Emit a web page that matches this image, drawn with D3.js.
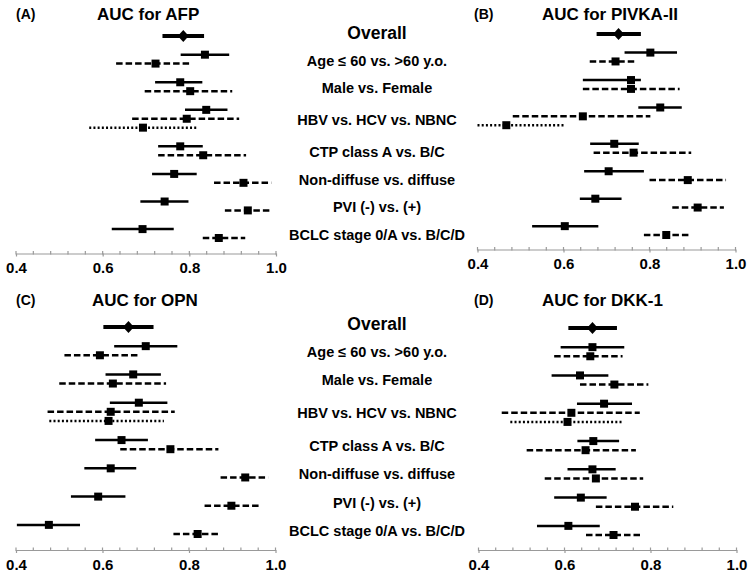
<!DOCTYPE html>
<html>
<head>
<meta charset="utf-8">
<script src="https://cdn.jsdelivr.net/npm/d3@7"></script>
<style>
  body { margin: 0; background: #fff; }
  text { font-family: Arial, "Liberation Sans", sans-serif; font-weight: bold; fill: #000; }
</style>
</head>
<body>
<div id="chart"></div>
<script>
// group labels in the middle column
var groups = ["Overall", "Age \u2264 60 vs. >60 y.o.", "Male vs. Female", "HBV vs. HCV vs. NBNC",
  "CTP class A vs. B/C", "Non-diffuse vs. diffuse", "PVI (-) vs. (+)", "BCLC stage 0/A vs. B/C/D"];

// one row per subgroup
var subgroups = ["Overall", "Age <= 60", "Age > 60", "Male", "Female", "HBV", "HCV", "NBNC",
  "CTP A", "CTP B/C", "Non-diffuse", "Diffuse", "PVI (-)", "PVI (+)", "BCLC 0/A", "BCLC B/C/D"];
var subgroupGroup = [0, 1, 1, 2, 2, 3, 3, 3, 4, 4, 5, 5, 6, 6, 7, 7];
var subgroupStyle = ["overall", "solid", "dashed", "solid", "dashed", "solid", "dashed", "dotted",
  "solid", "dashed", "solid", "dashed", "solid", "dashed", "solid", "dashed"];

var tickLabels = [0.4, 0.6, 0.8, 1.0];

// [AUC, lower CI, upper CI] per subgroup
var afp = [
  [0.786, 0.738, 0.834], [0.836, 0.780, 0.892], [0.722, 0.631, 0.800],
  [0.779, 0.721, 0.830], [0.802, 0.697, 0.899],
  [0.839, 0.790, 0.888], [0.794, 0.668, 0.915], [0.693, 0.569, 0.818],
  [0.779, 0.728, 0.831], [0.832, 0.728, 0.931],
  [0.765, 0.714, 0.817], [0.925, 0.857, 0.989],
  [0.743, 0.687, 0.798], [0.935, 0.882, 0.989],
  [0.692, 0.621, 0.764], [0.868, 0.831, 0.929]
];
var pivka = [
  [0.728, 0.677, 0.780], [0.802, 0.742, 0.864], [0.721, 0.661, 0.769],
  [0.757, 0.645, 0.780], [0.757, 0.645, 0.870],
  [0.825, 0.774, 0.875], [0.645, 0.482, 0.802], [0.467, 0.400, 0.603],
  [0.718, 0.662, 0.775], [0.763, 0.670, 0.897],
  [0.705, 0.648, 0.787], [0.889, 0.800, 0.978],
  [0.674, 0.638, 0.735], [0.912, 0.853, 0.973],
  [0.603, 0.527, 0.681], [0.839, 0.787, 0.891]
];
var opn = [
  [0.660, 0.602, 0.718], [0.700, 0.627, 0.773], [0.594, 0.512, 0.681],
  [0.671, 0.607, 0.735], [0.624, 0.500, 0.747],
  [0.684, 0.617, 0.750], [0.619, 0.473, 0.767], [0.614, 0.477, 0.742],
  [0.644, 0.583, 0.705], [0.757, 0.641, 0.868],
  [0.619, 0.558, 0.678], [0.930, 0.873, 0.983],
  [0.590, 0.527, 0.653], [0.898, 0.836, 0.961],
  [0.476, 0.402, 0.548], [0.820, 0.764, 0.873]
];
var dkk1 = [
  [0.665, 0.609, 0.722], [0.665, 0.591, 0.739], [0.660, 0.576, 0.735],
  [0.636, 0.570, 0.702], [0.716, 0.636, 0.795],
  [0.692, 0.629, 0.757], [0.616, 0.454, 0.775], [0.607, 0.474, 0.737],
  [0.667, 0.630, 0.727], [0.649, 0.512, 0.766],
  [0.665, 0.607, 0.719], [0.673, 0.554, 0.783],
  [0.638, 0.576, 0.698], [0.764, 0.673, 0.853],
  [0.609, 0.536, 0.682], [0.714, 0.650, 0.782]
];

var W = 749, H = 576;
var svg = d3.select("#chart").append("svg")
  .attr("width", W)
  .attr("height", H);

// row offsets: +1 inside a group, +2.1 when a new group starts
var rowOffset = [];
subgroups.forEach(function(s, i) {
  if (i == 0) rowOffset.push(0);
  else rowOffset.push(rowOffset[i - 1] + (subgroupGroup[i] == subgroupGroup[i - 1] ? 1 : 2.1));
});
var maxOffset = rowOffset[rowOffset.length - 1];

var panels = [
  {tag: "(A)", title: "AUC for AFP", data: afp, x0: 16, x1: 276, top: 36, bottom: 238, axisY: 253.5, tagX: 16, titleX: 97, titleY: 14},
  {tag: "(B)", title: "AUC for PIVKA-II", data: pivka, x0: 477.5, x1: 735.5, top: 34, bottom: 235, axisY: 249.5, tagX: 474, titleX: 542, titleY: 14},
  {tag: "(C)", title: "AUC for OPN", data: opn, x0: 16, x1: 275.5, top: 327, bottom: 534, axisY: 550, tagX: 16, titleX: 92, titleY: 300},
  {tag: "(D)", title: "AUC for DKK-1", data: dkk1, x0: 478.5, x1: 736.5, top: 328, bottom: 535, axisY: 550, tagX: 474, titleX: 542, titleY: 300}
];

panels.forEach(function(p) {
  var g = svg.append("g");
  var x = d3.scaleLinear().domain([0.4, 1.0]).range([p.x0, p.x1]);
  var y = d3.scaleLinear().domain([0, maxOffset]).range([p.top, p.bottom]);

  g.append("text")
    .attr("x", p.tagX).attr("y", p.titleY)
    .attr("dominant-baseline", "central")
    .style("font-size", "14px")
    .text(p.tag);
  g.append("text")
    .attr("x", p.titleX).attr("y", p.titleY)
    .attr("dominant-baseline", "central")
    .style("font-size", "17px")
    .text(p.title);

  // axis
  var axis = d3.axisBottom(x)
    .tickValues(tickLabels)
    .tickFormat(d3.format(".1f"))
    .tickSize(3)
    .tickSizeOuter(0)
    .tickPadding(6);
  var ax = g.append("g")
    .attr("transform", "translate(0," + p.axisY + ")")
    .call(axis);
  ax.select(".domain").attr("stroke", "#9a9a9a").attr("stroke-width", 1.2);
  ax.selectAll(".tick line").attr("stroke", "#9a9a9a").attr("stroke-width", 1.2);
  ax.selectAll(".tick text")
    .style("font-family", "Arial, 'Liberation Sans', sans-serif")
    .style("font-weight", "bold")
    .style("font-size", "15px")
    .attr("fill", "#000");

  // minor ticks every 0.04
  g.append("g").selectAll("line")
    .data(d3.range(0, 16).map(function(i) { return 0.4 + i * 0.04; }))
    .enter().append("line")
      .attr("x1", function(d) { return x(d); })
      .attr("x2", function(d) { return x(d); })
      .attr("y1", p.axisY - 2.5)
      .attr("y2", p.axisY + 1)
      .attr("stroke", "#9a9a9a")
      .attr("stroke-width", 1.2);

  var rows = p.data.map(function(d, i) {
    return {est: d[0], lo: d[1], hi: d[2], style: subgroupStyle[i], off: rowOffset[i]};
  });

  // CI lines
  g.append("g").selectAll("line")
    .data(rows)
    .enter().append("line")
      .attr("x1", function(d) { return x(d.lo); })
      .attr("x2", function(d) { return x(d.hi); })
      .attr("y1", function(d) { return y(d.off); })
      .attr("y2", function(d) { return y(d.off); })
      .attr("stroke", "#000")
      .attr("stroke-width", function(d) { return d.style == "overall" ? 4 : 2.5; })
      .attr("stroke-dasharray", function(d) {
        if (d.style == "dashed") return "6.5,3";
        if (d.style == "dotted") return "2,2.2";
        return null;
      });

  // point estimates
  g.append("g").selectAll("path")
    .data(rows)
    .enter().append("path")
      .attr("transform", function(d) { return "translate(" + x(d.est) + "," + y(d.off) + ")"; })
      .attr("d", function(d) {
        if (d.style == "overall") return "M0,-6L5.5,0L0,6L-5.5,0Z";
        return "M-4,-4H4V4H-4Z";
      })
      .attr("fill", "#000");
});

// middle column labels, centred on each group of rows
function groupMid(i, top, bottom) {
  var y = d3.scaleLinear().domain([0, maxOffset]).range([top, bottom]);
  var offs = rowOffset.filter(function(o, k) { return subgroupGroup[k] == i; });
  return y(d3.mean(offs));
}

[{top: 36, bottom: 238}, {top: 327, bottom: 534}].forEach(function(b) {
  svg.append("g").selectAll("text")
    .data(groups)
    .enter().append("text")
      .attr("x", 377)
      .attr("y", function(d, i) { return i == 0 ? groupMid(i, b.top, b.bottom) - 3.5 : groupMid(i, b.top, b.bottom) + 1.5; })
      .attr("text-anchor", "middle")
      .attr("dominant-baseline", "central")
      .style("font-size", function(d, i) { return i == 0 ? "17.5px" : "14.5px"; })
      .text(function(d) { return d; });
});
</script>
</body>
</html>
